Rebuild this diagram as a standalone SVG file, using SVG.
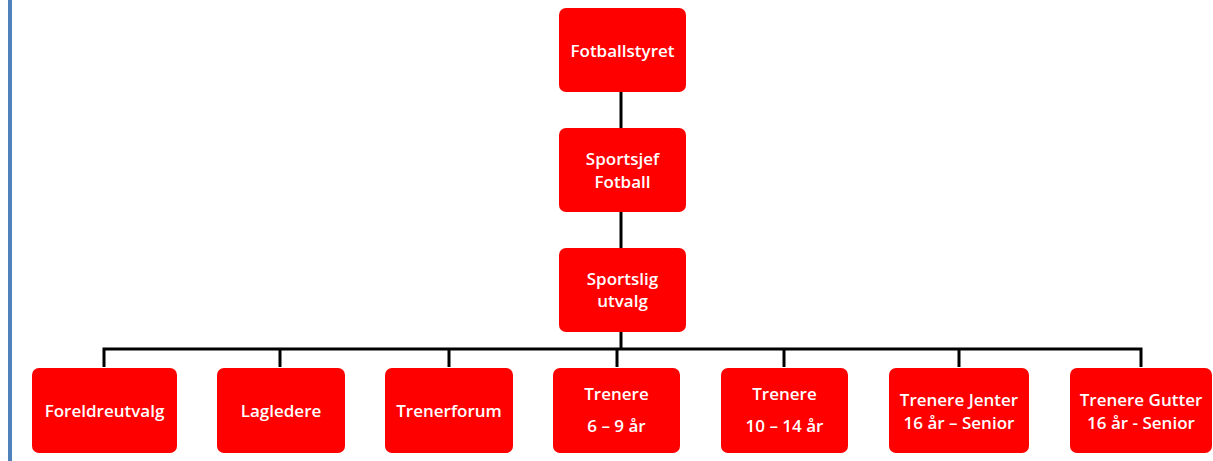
<svg xmlns="http://www.w3.org/2000/svg" width="1213" height="461" viewBox="0 0 1213 461">
<style>
.box{fill:#ff0000;}
.t{fill:#ffffff;font-family:"Open Sans","Liberation Sans",sans-serif;font-size:17px;font-weight:600;text-anchor:middle;dominant-baseline:central;}
.c{stroke:#000000;stroke-width:3;fill:none;}
</style>
<rect x="0" y="0" width="1213" height="461" fill="#ffffff"/>
<rect x="8" y="0" width="4" height="461" fill="#4f81bd"/>
<g id="connectors">
<line class="c" x1="621" y1="92" x2="621" y2="128"/>
<line class="c" x1="621" y1="212" x2="621" y2="248"/>
<line class="c" x1="621" y1="332" x2="621" y2="349"/>
<polyline class="c" points="104,367 104,349 1141,349 1141,367"/>
<line class="c" x1="280" y1="349" x2="280" y2="367"/>
<line class="c" x1="449" y1="349" x2="449" y2="367"/>
<line class="c" x1="617" y1="349" x2="617" y2="367"/>
<line class="c" x1="784" y1="349" x2="784" y2="367"/>
<line class="c" x1="959" y1="349" x2="959" y2="367"/>
</g>
<g id="fotballstyret"><rect class="box" x="559" y="8" width="127" height="84" rx="7"/><text class="t" x="622.5" y="50">Fotballstyret</text></g>
<g id="sportsjef"><rect class="box" x="559" y="128" width="127" height="84" rx="7"/><text class="t" x="622.5" y="158">Sportsjef</text><text class="t" x="622.5" y="181">Fotball</text></g>
<g id="sportslig"><rect class="box" x="559" y="248" width="127" height="84" rx="7"/><text class="t" x="622.5" y="278">Sportslig</text><text class="t" x="622.5" y="300">utvalg</text></g>
<g id="foreldreutvalg"><rect class="box" x="32" y="368" width="145" height="85" rx="7"/><text class="t" x="104.5" y="410">Foreldreutvalg</text></g>
<g id="lagledere"><rect class="box" x="217" y="368" width="128" height="85" rx="7"/><text class="t" x="281" y="410">Lagledere</text></g>
<g id="trenerforum"><rect class="box" x="385" y="368" width="128" height="85" rx="7"/><text class="t" x="449" y="410">Trenerforum</text></g>
<g id="trenere69"><rect class="box" x="553" y="368" width="127" height="85" rx="7"/><text class="t" x="616.5" y="393">Trenere</text><text class="t" x="616.5" y="425">6 – 9 år</text></g>
<g id="trenere1014"><rect class="box" x="721" y="368" width="127" height="85" rx="7"/><text class="t" x="784.5" y="393">Trenere</text><text class="t" x="784.5" y="425">10 – 14 år</text></g>
<g id="jenter"><rect class="box" x="889" y="368" width="140" height="85" rx="7"/><text class="t" x="959" y="399">Trenere Jenter</text><text class="t" x="959" y="422">16 år – Senior</text></g>
<g id="gutter"><rect class="box" x="1070" y="368" width="142" height="85" rx="7"/><text class="t" x="1141" y="399">Trenere Gutter</text><text class="t" x="1141" y="422">16 år - Senior</text></g>
</svg>
